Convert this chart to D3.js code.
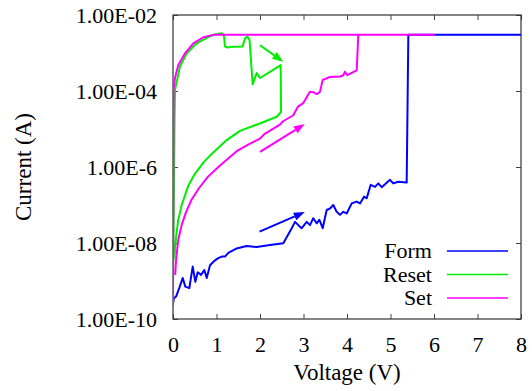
<!DOCTYPE html>
<html>
<head>
<meta charset="utf-8">
<script src="https://cdn.jsdelivr.net/npm/d3@7"></script>
<style>
  body { margin: 0; background: #fff; }
</style>
</head>
<body>
<div id="chart"></div>
<script>
// [voltage (V), current (A)]
const form = [
  [0.0, 2.6e-10], [0.02, 3.5e-10], [0.07, 3.9e-10], [0.145, 6.6e-10], [0.223, 1.2e-9],
  [0.283, 7.1e-10], [0.375, 6.5e-10], [0.453, 2.4e-9], [0.513, 9.5e-10], [0.568, 1.7e-9],
  [0.644, 1.45e-9], [0.72, 1.95e-9], [0.775, 1.2e-9], [0.851, 2.6e-9], [0.966, 3.5e-9],
  [1.041, 4.0e-9], [1.12, 4.4e-9], [1.195, 4.4e-9], [1.271, 5.5e-9], [1.464, 7.2e-9],
  [1.694, 8.3e-9], [1.924, 7.8e-9], [2.23, 8.9e-9], [2.536, 9.8e-9], [2.729, 2.45e-8],
  [2.805, 3.6e-8], [2.881, 2.95e-8], [2.959, 2.45e-8], [3.074, 3.6e-8], [3.149, 2.95e-8],
  [3.225, 4.5e-8], [3.303, 3.3e-8], [3.363, 4.1e-8], [3.441, 2.45e-8], [3.533, 7.4e-8],
  [3.609, 8.1e-8], [3.685, 1.0e-7], [3.763, 6.6e-8], [3.839, 5.5e-8], [3.915, 6.6e-8],
  [3.993, 6.0e-8], [4.108, 1.1e-7], [4.223, 1.23e-7], [4.299, 1.1e-7], [4.391, 1.66e-7],
  [4.453, 1.5e-7], [4.545, 3.4e-7], [4.644, 3.0e-7], [4.72, 3.7e-7], [4.798, 2.95e-7],
  [4.874, 3.5e-7], [4.989, 4.6e-7], [5.064, 3.7e-7], [5.179, 4.1e-7], [5.372, 3.9e-7],
  [5.41, 3.0e-3], [8.0, 3.0e-3]
];

const reset = [
  [0.005, 3.2e-9], [0.02, 1.35e-7], [0.035, 1.74e-5], [0.046, 1.07e-4], [0.161, 4.4e-4],
  [0.315, 9.8e-4], [0.545, 1.8e-3], [0.851, 2.8e-3], [0.99, 3.1e-3], [1.12, 3.3e-3],
  [1.17, 3.0e-3], [1.195, 1.48e-3], [1.26, 1.4e-3], [1.34, 1.45e-3], [1.45, 1.45e-3],
  [1.60, 1.48e-3], [1.655, 2.4e-3], [1.71, 2.7e-3], [1.76, 2.2e-3], [1.832, 1.5e-4],
  [1.924, 2.95e-4], [2.0, 2.2e-4], [2.23, 3.2e-4], [2.476, 4.8e-4], [2.483, 2.8e-5],
  [2.384, 2.1e-5], [2.0, 1.4e-5], [1.54, 8.9e-6], [1.234, 5.1e-6], [1.0, 2.9e-6],
  [0.851, 2.0e-6], [0.697, 1.3e-6], [0.5, 6.5e-7], [0.35, 3.2e-7], [0.2, 1.0e-7],
  [0.12, 4.0e-8], [0.07, 1.4e-8], [0.045, 6.6e-9], [0.03, 4.0e-9]
];

const set = [
  [0.05, 1.45e-9], [0.07, 3.5e-9], [0.12, 1.2e-8], [0.2, 3.0e-8], [0.3, 6.5e-8],
  [0.43, 1.4e-7], [0.6, 2.8e-7], [0.8, 5.5e-7], [1.08, 1.1e-6],
  [1.349, 2.0e-6], [1.464, 2.6e-6], [1.75, 4.0e-6], [2.0, 5.6e-6], [2.115, 7.6e-6], [2.46, 1.3e-5],
  [2.53, 1.6e-5], [2.766, 2.3e-5], [2.874, 3.9e-5], [2.995, 4.8e-5], [3.149, 9.5e-5],
  [3.225, 9.3e-5], [3.303, 8.3e-5], [3.379, 9.5e-5], [3.441, 1.95e-4], [3.609, 2.35e-4],
  [3.839, 2.4e-4], [3.915, 2.6e-4], [3.954, 3.2e-4], [4.007, 2.6e-4], [4.223, 3.5e-4],
  [4.26, 3.0e-3], [6.0, 3.0e-3],
  [0.926, 3.0e-3], [0.697, 2.6e-3], [0.467, 1.8e-3], [0.276, 9.8e-4], [0.122, 4.8e-4],
  [0.046, 2.2e-4], [0.012, 1.1e-4], [0.008, 1e-6], [0.004, 1e-8], [0.001, 2.2e-10]
];

// arrows: [from, to]
const arrowForm = [[1.99, 2.0e-8], [3.03, 6.5e-8]];
const arrowReset = [[2.0, 1.6e-3], [2.536, 5.9e-4]];
const arrowSet = [[2.0, 2.5e-6], [3.03, 1.35e-5]];

const xTicks = [0, 1, 2, 3, 4, 5, 6, 7, 8];
const yTicks = [1e-2, 1e-4, 1e-6, 1e-8, 1e-10];
const yTickLabels = ['1.00E-02', '1.00E-04', '1.00E-6', '1.00E-08', '1.00E-10'];

const seriesNames = ['Form', 'Reset', 'Set'];
const seriesColors = ['#0000ff', '#00ee00', '#ff00ff'];

const W = 532, H = 391;
const margin = { top: 15, right: 11, bottom: 72, left: 173 };
const width = W - margin.left - margin.right;
const height = H - margin.top - margin.bottom;
const font = "'Liberation Serif'";

const svg = d3.select('#chart').append('svg')
  .attr('width', W).attr('height', H);

const g = svg.append('g')
  .attr('transform', `translate(${margin.left},${margin.top})`);

const x = d3.scaleLinear().domain([0, 8]).range([0, width]);
const y = d3.scaleLog().domain([1e-10, 1e-2]).range([height, 0]);

g.append('clipPath').attr('id', 'clip')
  .append('rect').attr('width', width).attr('height', height);

// axes, ticks pointing inward
g.append('g')
  .attr('transform', `translate(0,${height})`)
  .call(d3.axisBottom(x).tickValues(xTicks).tickSizeInner(-5).tickSizeOuter(0).tickPadding(17))
  .call(a => a.select('.domain').remove());
g.append('g')
  .call(d3.axisTop(x).tickValues(xTicks).tickSizeInner(-5).tickSizeOuter(0).tickFormat(''))
  .call(a => a.select('.domain').remove());
g.append('g')
  .call(d3.axisLeft(y).tickValues(yTicks).tickSizeInner(-5).tickSizeOuter(0).tickPadding(16)
    .tickFormat((d, i) => yTickLabels[i]))
  .call(a => a.select('.domain').remove());
g.append('g')
  .attr('transform', `translate(${width},0)`)
  .call(d3.axisRight(y).tickValues(yTicks).tickSizeInner(-5).tickSizeOuter(0).tickFormat(''))
  .call(a => a.select('.domain').remove());

g.selectAll('g').attr('font-family', font).attr('font-size', 22);
g.selectAll('.tick line').attr('stroke', '#444');
g.selectAll('.tick text').attr('fill', '#000');

g.append('rect')
  .attr('width', width).attr('height', height)
  .attr('fill', 'none').attr('stroke', '#333').attr('stroke-width', 1.2);

// curves
const line = d3.line().x(d => x(d[0])).y(d => y(d[1]));
const plot = g.append('g').attr('clip-path', 'url(#clip)');

[form, reset, set].forEach((s, i) => {
  plot.append('path')
    .datum(s)
    .attr('d', line)
    .attr('fill', 'none')
    .attr('stroke', seriesColors[i])
    .attr('stroke-width', 2)
    .attr('stroke-linejoin', 'round');
});

// arrows
[arrowForm, arrowReset, arrowSet].forEach((a, i) => {
  const x0 = x(a[0][0]), y0 = y(a[0][1]), x1 = x(a[1][0]), y1 = y(a[1][1]);
  const ang = Math.atan2(y1 - y0, x1 - x0);
  const len = 11, half = 4;
  const bx = x1 - len * Math.cos(ang), by = y1 - len * Math.sin(ang);
  plot.append('line')
    .attr('x1', x0).attr('y1', y0).attr('x2', bx).attr('y2', by)
    .attr('stroke', seriesColors[i]).attr('stroke-width', 2);
  plot.append('polygon')
    .attr('points', [
      [x1, y1],
      [bx + half * Math.sin(ang), by - half * Math.cos(ang)],
      [bx - half * Math.sin(ang), by + half * Math.cos(ang)]
    ].map(p => p.join(',')).join(' '))
    .attr('fill', seriesColors[i]);
});

// legend
const legend = svg.append('g');
seriesNames.forEach((name, i) => {
  const ly = 251 + i * 23.5;
  legend.append('text')
    .attr('x', 432).attr('y', ly + 7)
    .attr('text-anchor', 'end')
    .attr('font-family', font)
    .attr('font-size', 22)
    .text(name);
  legend.append('line')
    .attr('x1', 447).attr('x2', 508).attr('y1', ly).attr('y2', ly)
    .attr('stroke', seriesColors[i]).attr('stroke-width', 1.6);
});

// axis titles
svg.append('text')
  .attr('x', margin.left + width / 2).attr('y', 380)
  .attr('text-anchor', 'middle')
  .attr('font-family', font)
  .attr('font-size', 23)
  .text('Voltage (V)');

svg.append('text')
  .attr('transform', `translate(31,${margin.top + height / 2}) rotate(-90)`)
  .attr('text-anchor', 'middle')
  .attr('font-family', font)
  .attr('font-size', 23)
  .text('Current (A)');
</script>
</body>
</html>
